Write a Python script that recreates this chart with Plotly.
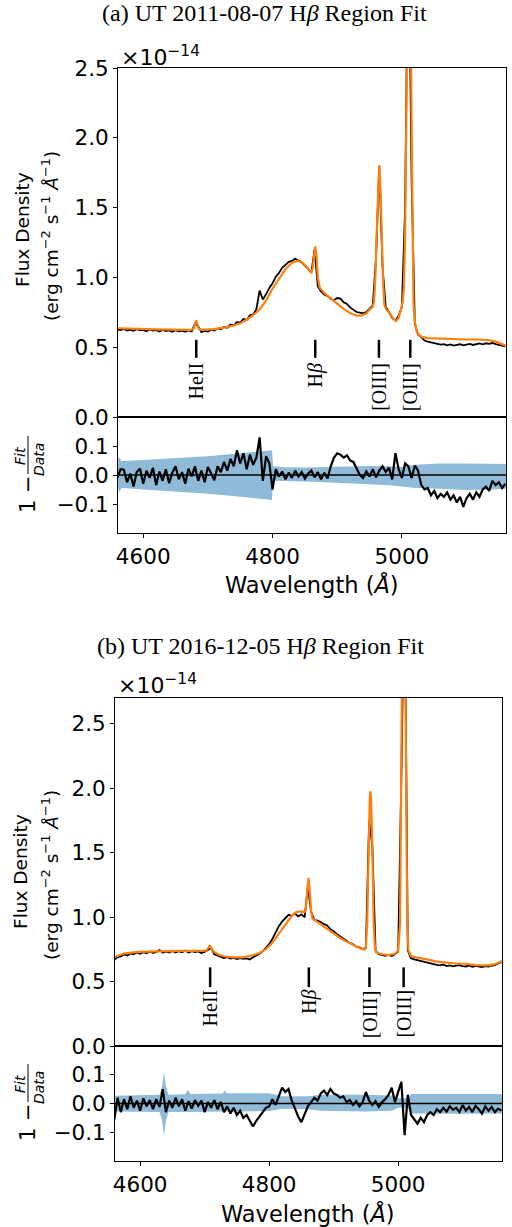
import plotly.graph_objects as go

W, H = 512, 1227


def fx(px):
    return px / W


def fy(py):
    return 1 - py / H


# ---------------- data ----------------
wave = [4560, 4565, 4570, 4575, 4580, 4585, 4590, 4595, 4600, 4605, 4610, 4615, 4620, 4625, 4630, 4635,
        4640, 4645, 4650, 4655, 4660, 4665, 4670, 4675, 4680, 4685, 4690, 4695, 4700, 4705, 4710, 4715,
        4720, 4725, 4730, 4735, 4740, 4745, 4750, 4755, 4760, 4765, 4770, 4775, 4780, 4785, 4790, 4795,
        4800, 4805, 4810, 4815, 4820, 4825, 4830, 4835, 4840, 4845, 4850, 4855, 4860, 4865, 4870, 4875,
        4880, 4885, 4890, 4895, 4900, 4905, 4910, 4915, 4920, 4925, 4930, 4935, 4940, 4945, 4950, 4955,
        4960, 4965, 4970, 4975, 4980, 4985, 4990, 4995, 5000, 5005, 5010, 5015, 5020, 5025, 5030, 5035,
        5040, 5045, 5050, 5055, 5060, 5065, 5070, 5075, 5080, 5085, 5090, 5095, 5100, 5105, 5110, 5115,
        5120, 5125, 5130, 5135, 5140, 5145, 5150, 5155, 5160]

flux_a = [0.628, 0.622, 0.631, 0.620, 0.626, 0.618, 0.629, 0.621, 0.624, 0.615, 0.627, 0.619, 0.623, 0.612, 0.624, 0.616,
          0.620, 0.611, 0.622, 0.613, 0.618, 0.610, 0.621, 0.614, 0.668, 0.650, 0.608, 0.617, 0.612, 0.626, 0.619, 0.634,
          0.628, 0.645, 0.640, 0.662, 0.655, 0.681, 0.676, 0.702, 0.695, 0.728, 0.735, 0.772, 0.905, 0.842, 0.880, 0.925,
          0.958, 1.005, 1.032, 1.070, 1.090, 1.112, 1.118, 1.135, 1.120, 1.108, 1.085, 1.060, 1.035, 1.200, 0.935, 0.900,
          0.878, 0.866, 0.845, 0.838, 0.852, 0.848, 0.822, 0.810, 0.785, 0.768, 0.752, 0.748, 0.742, 0.752, 0.775, 0.800,
          1.140, 1.800, 1.080, 0.790, 0.752, 0.710, 0.692, 0.725, 0.790, 1.500, 3.700, 1.700, 0.670, 0.590, 0.572, 0.548,
          0.540, 0.534, 0.528, 0.524, 0.518, 0.522, 0.514, 0.520, 0.512, 0.517, 0.521, 0.513, 0.519, 0.524, 0.516, 0.522,
          0.527, 0.521, 0.528, 0.524, 0.530, 0.522, 0.516, 0.510, 0.505]

fit_wave_a = [4560, 4580, 4600, 4620, 4640, 4660, 4674, 4678, 4680, 4682, 4684, 4686, 4690, 4700, 4710, 4725,
              4740, 4750, 4760, 4770, 4780, 4790, 4800, 4810, 4820, 4830, 4838, 4845, 4852, 4857, 4860, 4862,
              4864, 4866, 4868, 4870, 4873, 4880, 4890, 4900, 4910, 4920, 4930, 4938, 4945, 4950, 4955, 4957,
              4959, 4961, 4963, 4965, 4967, 4969, 4971, 4973, 4976, 4982, 4987, 4991, 4995, 4998, 5001, 5003,
              5005, 5007, 5009, 5011, 5013, 5015, 5016.5, 5018, 5020, 5023, 5027, 5032, 5040, 5060, 5080, 5100,
              5120, 5135, 5145, 5152, 5161]
fit_a = [0.636, 0.632, 0.630, 0.628, 0.626, 0.624, 0.624, 0.632, 0.660, 0.692, 0.660, 0.632, 0.624, 0.625, 0.630, 0.640,
         0.655, 0.672, 0.697, 0.730, 0.770, 0.835, 0.920, 0.990, 1.060, 1.105, 1.118, 1.110, 1.080, 1.048, 1.032, 1.065,
         1.170, 1.223, 1.150, 1.000, 0.925, 0.888, 0.850, 0.810, 0.775, 0.745, 0.726, 0.728, 0.742, 0.768, 0.790, 0.830,
         1.000, 1.310, 1.648, 1.803, 1.620, 1.270, 0.960, 0.800, 0.770, 0.740, 0.700, 0.688, 0.710, 0.760, 0.820, 0.920,
         1.300, 2.200, 3.300, 3.900, 3.300, 2.100, 1.200, 0.820, 0.680, 0.610, 0.585, 0.572, 0.565, 0.560, 0.557, 0.555,
         0.555, 0.550, 0.540, 0.525, 0.510]

resid_a = [-0.010, 0.020, 0.018, -0.025, 0.005, -0.040, 0.010, 0.022, -0.030, 0.015, -0.010, 0.025, -0.035, 0.012, -0.020, 0.020,
           -0.028, 0.008, 0.030, -0.015, 0.010, -0.030, 0.022, -0.005, 0.030, -0.020, 0.015, -0.025, 0.028, 0.005, -0.018, 0.030,
           0.010, 0.045, 0.015, 0.055, 0.030, 0.085, 0.040, 0.075, 0.020, 0.070, 0.035, 0.060, 0.130, -0.020, 0.065, 0.040,
           -0.050, 0.020, -0.005, 0.012, -0.015, 0.008, -0.010, 0.015, -0.005, 0.010, -0.012, 0.005, 0.015, -0.008, 0.010, -0.015,
           0.008, -0.012, 0.030, 0.060, 0.075, 0.070, 0.060, 0.068, 0.050, 0.045, 0.025, 0.000, -0.010, 0.012, -0.005, 0.020,
           -0.008, 0.015, 0.030, 0.010, 0.025, -0.015, 0.075, 0.020, -0.010, 0.040, 0.030, -0.010, 0.032, 0.015, -0.035, -0.050,
           -0.045, -0.070, -0.055, -0.080, -0.065, -0.075, -0.060, -0.085, -0.070, -0.095, -0.075, -0.110, -0.080, -0.065, -0.085, -0.060,
           -0.075, -0.050, -0.040, -0.055, -0.020, -0.035, -0.025, -0.045, -0.030]

band_wave_a = [4560, 4563, 4566, 4570, 4600, 4650, 4700, 4750, 4799, 4801, 4820, 4850, 4880, 4900, 4920, 4950,
               4980, 5000, 5020, 5040, 5060, 5100, 5140, 5161]
band_hi_a = [0.045, 0.062, 0.048, 0.048, 0.052, 0.058, 0.065, 0.075, 0.085, 0.030, 0.027, 0.026, 0.028, 0.030, 0.031, 0.031,
             0.030, 0.028, 0.035, 0.038, 0.040, 0.040, 0.039, 0.038]
band_lo_a = [-0.040, -0.060, -0.045, -0.045, -0.050, -0.057, -0.065, -0.075, -0.086, -0.020, -0.020, -0.022, -0.025, -0.027, -0.029, -0.030,
             -0.035, -0.040, -0.045, -0.046, -0.048, -0.052, -0.050, -0.047]

line_wave_a = [4682, 4866, 4964.5, 5013]

flux_b = [0.668, 0.690, 0.695, 0.710, 0.702, 0.718, 0.712, 0.725, 0.716, 0.728, 0.720, 0.733, 0.722, 0.730, 0.745, 0.724,
          0.732, 0.726, 0.738, 0.725, 0.735, 0.728, 0.740, 0.726, 0.736, 0.728, 0.734, 0.722, 0.730, 0.745, 0.760, 0.712,
          0.700, 0.688, 0.682, 0.690, 0.678, 0.684, 0.674, 0.682, 0.676, 0.680, 0.672, 0.688, 0.700, 0.715, 0.735, 0.760,
          0.790, 0.830, 0.880, 0.930, 0.965, 0.990, 1.018, 1.010, 1.028, 1.005, 1.022, 0.998, 1.240, 1.040, 0.978, 0.972,
          0.962, 0.945, 0.935, 0.905, 0.890, 0.868, 0.850, 0.835, 0.820, 0.800, 0.790, 0.770, 0.765, 0.752, 0.762, 1.750,
          1.550, 0.740, 0.712, 0.705, 0.700, 0.706, 0.698, 0.712, 0.732, 2.100, 3.700, 0.740, 0.680, 0.672, 0.665, 0.660,
          0.652, 0.648, 0.642, 0.636, 0.630, 0.626, 0.632, 0.620, 0.626, 0.618, 0.624, 0.628, 0.620, 0.617, 0.625, 0.615,
          0.622, 0.618, 0.612, 0.620, 0.616, 0.624, 0.628, 0.640, 0.652]

fit_wave_b = [4558, 4565, 4575, 4590, 4600, 4625, 4650, 4675, 4695, 4702, 4705, 4708, 4711, 4715, 4722, 4730,
              4745, 4760, 4775, 4785, 4795, 4805, 4815, 4825, 4835, 4842, 4850, 4855, 4857, 4859, 4861, 4863,
              4865, 4867, 4878, 4890, 4900, 4910, 4920, 4930, 4940, 4948, 4950, 4952, 4954, 4956, 4957, 4958,
              4960, 4962, 4964, 4966, 4975, 4985, 4995, 5000, 5003, 5005, 5006, 5007, 5008.5, 5010, 5011, 5012,
              5014, 5016, 5020, 5025, 5035, 5045, 5060, 5075, 5090, 5105, 5120, 5140, 5150, 5161]
fit_b = [0.686, 0.700, 0.718, 0.726, 0.730, 0.734, 0.735, 0.735, 0.737, 0.740, 0.755, 0.782, 0.752, 0.728, 0.708, 0.696,
         0.688, 0.688, 0.704, 0.722, 0.752, 0.800, 0.870, 0.940, 1.010, 1.040, 1.045, 1.040, 1.060, 1.200, 1.305, 1.200,
         1.050, 0.990, 0.950, 0.905, 0.870, 0.838, 0.810, 0.782, 0.760, 0.748, 0.770, 0.950, 1.550, 1.920, 1.976, 1.920,
         1.550, 0.950, 0.770, 0.725, 0.712, 0.705, 0.715, 0.740, 0.950, 2.100, 2.800, 3.700, 4.500, 3.700, 2.800, 2.100,
         0.950, 0.740, 0.700, 0.690, 0.682, 0.672, 0.655, 0.645, 0.640, 0.638, 0.628, 0.625, 0.635, 0.660]

resid_b = [-0.055, 0.020, -0.030, 0.015, -0.020, 0.025, -0.015, 0.010, -0.025, 0.018, -0.010, 0.012, -0.020, 0.015, -0.012, 0.050,
           -0.030, 0.010, -0.015, 0.020, -0.010, 0.015, -0.025, 0.008, -0.018, 0.012, -0.008, 0.010, -0.030, 0.005, -0.015, 0.012,
           -0.020, 0.005, -0.030, -0.010, -0.035, -0.015, -0.040, -0.025, -0.050, -0.040, -0.060, -0.080, -0.060, -0.045, -0.030, -0.015,
           -0.010, 0.015, -0.005, 0.025, 0.055, 0.040, 0.050, 0.010, -0.020, -0.045, -0.065, -0.035, -0.010, 0.005, 0.020, 0.010,
           0.035, 0.045, 0.030, 0.050, 0.035, 0.030, 0.020, 0.025, 0.005, 0.012, -0.005, 0.008, -0.010, 0.005, 0.040, 0.010,
           -0.005, 0.008, -0.012, 0.005, 0.015, 0.030, 0.055, 0.005, 0.040, 0.075, -0.110, 0.030, -0.040, -0.055, -0.070, -0.050,
           -0.065, -0.040, -0.030, -0.040, -0.020, -0.030, -0.015, -0.028, -0.010, -0.022, -0.015, -0.030, -0.005, -0.025, -0.012, -0.030,
           -0.008, -0.020, -0.035, -0.010, -0.025, -0.012, -0.030, -0.018, -0.025]

band_wave_b = [4560, 4600, 4630, 4634, 4637, 4640, 4644, 4670, 4674, 4678, 4728, 4731, 4734, 4800, 4820, 4860,
               4880, 4950, 4990, 5000, 5015, 5020, 5060, 5100, 5161]
band_hi_b = [0.027, 0.028, 0.030, 0.060, 0.110, 0.060, 0.030, 0.032, 0.048, 0.033, 0.035, 0.045, 0.036, 0.036, 0.025, 0.025,
             0.030, 0.030, 0.028, 0.018, 0.018, 0.033, 0.033, 0.034, 0.033]
band_lo_b = [-0.028, -0.028, -0.030, -0.060, -0.112, -0.060, -0.030, -0.030, -0.030, -0.030, -0.028, -0.028, -0.028, -0.026, -0.018, -0.020,
             -0.025, -0.028, -0.025, -0.015, -0.015, -0.035, -0.036, -0.036, -0.035]

line_wave_b = [4708.5, 4861.5, 4955.5, 5008.5]
line_names = ["HeII", "H<i>β</i>", "[OIII]", "[OIII]"]

x_ticks = [4600, 4800, 5000]
x_tick_text = ["4600", "4800", "5000"]
y_ticks_main = [0.0, 0.5, 1.0, 1.5, 2.0, 2.5]
y_tick_text_main = ["0.0", "0.5", "1.0", "1.5", "2.0", "2.5"]
y_ticks_res = [-0.1, 0.0, 0.1]
y_tick_text_res = ["\u22120.1", "0.0", "0.1"]

titles = ["(a) UT 2011-08-07 H<i>β</i> Region Fit", "(b) UT 2016-12-05 H<i>β</i> Region Fit"]

# ---------------- styles / positions ----------------
BLACK = "black"
ORANGE = "#ff7f0e"
BAND = "rgba(31,119,180,0.5)"
SANS = "DejaVu Sans"
SERIF = "Liberation Serif"
LABEL_HALF_LEN = [18.3, 12.2, 23.9, 23.9]   # half text length (px) of each rotated label

fig = go.Figure()


def add_panel(sfx_main, sfx_res, fit_wave, fit_vals, flux, resid, bw, bhi, blo, lines, bar_lo, bar_hi,
              text_top_px, axis_bottom_px, px_per_unit):
    xm, ym = "x" + sfx_main, "y" + sfx_main
    xr, yr = "x" + sfx_res, "y" + sfx_res
    fig.add_trace(go.Scatter(x=wave, y=flux, mode="lines", line=dict(color=BLACK, width=1.8),
                             xaxis=xm, yaxis=ym, showlegend=False, hoverinfo="skip"))
    fig.add_trace(go.Scatter(x=fit_wave, y=fit_vals, mode="lines", line=dict(color=ORANGE, width=2.2),
                             xaxis=xm, yaxis=ym, showlegend=False, hoverinfo="skip"))
    bx, by = [], []
    for w in lines:
        bx += [w, w, None]
        by += [bar_lo, bar_hi, None]
    fig.add_trace(go.Scatter(x=bx, y=by, mode="lines", line=dict(color=BLACK, width=2.5),
                             xaxis=xm, yaxis=ym, showlegend=False, hoverinfo="skip"))
    for w, name, half in zip(lines, line_names, LABEL_HALF_LEN):
        yc = (axis_bottom_px - text_top_px - half) / px_per_unit
        fig.add_annotation(x=w, y=yc, xref=xm, yref=ym, text=name, textangle=-90,
                           showarrow=False, xanchor="center", yanchor="middle",
                           font=dict(family=SERIF, size=20, color=BLACK))
    # residual panel
    fig.add_trace(go.Scatter(x=bw, y=blo, mode="lines", line=dict(width=0, color=BAND),
                             xaxis=xr, yaxis=yr, showlegend=False, hoverinfo="skip"))
    fig.add_trace(go.Scatter(x=bw, y=bhi, mode="lines", line=dict(width=0, color=BAND), fill="tonexty",
                             fillcolor=BAND, xaxis=xr, yaxis=yr, showlegend=False, hoverinfo="skip"))
    fig.add_trace(go.Scatter(x=[4500, 5200], y=[0, 0], mode="lines", line=dict(color=BLACK, width=1.3),
                             xaxis=xr, yaxis=yr, showlegend=False, hoverinfo="skip"))
    fig.add_trace(go.Scatter(x=wave, y=resid, mode="lines", line=dict(color=BLACK, width=2.2),
                             xaxis=xr, yaxis=yr, showlegend=False, hoverinfo="skip"))


add_panel("", "2", fit_wave_a, fit_a, flux_a, resid_a, band_wave_a, band_hi_a, band_lo_a,
          line_wave_a, 0.424, 0.553, 363, 417, 139.6)
add_panel("3", "4", fit_wave_b, fit_b, flux_b, resid_b, band_wave_b, band_hi_b, band_lo_b,
          line_wave_b, 0.457, 0.61, 990, 1046, 128.9)

common = dict(showline=True, mirror=True, linecolor=BLACK, linewidth=1, showgrid=False, zeroline=False,
              automargin=False, ticks="outside", ticklen=4, tickwidth=1, tickcolor=BLACK,
              tickfont=dict(family=SANS, size=21.5, color=BLACK))

xr_range = [4561, 5161]
layout_axes = dict(
    xaxis=dict(common, domain=[fx(118), fx(506)], range=xr_range, anchor="y", ticks="", showticklabels=False,
               tickvals=x_ticks),
    yaxis=dict(common, domain=[fy(417), fy(68)], range=[0, 2.5], anchor="x", tickvals=y_ticks_main,
               ticktext=y_tick_text_main),
    xaxis2=dict(common, domain=[fx(118), fx(506)], range=xr_range, anchor="y2", tickvals=x_ticks,
                ticktext=x_tick_text),
    yaxis2=dict(common, domain=[fy(533), fy(417)], range=[-0.2, 0.2], anchor="x2", tickvals=y_ticks_res,
                ticktext=y_tick_text_res),
    xaxis3=dict(common, domain=[fx(115), fx(502)], range=xr_range, anchor="y3", ticks="", showticklabels=False,
                tickvals=x_ticks),
    yaxis3=dict(common, domain=[fy(1046), fy(698)], range=[0, 2.7], anchor="x3", tickvals=y_ticks_main,
                ticktext=y_tick_text_main),
    xaxis4=dict(common, domain=[fx(115), fx(502)], range=xr_range, anchor="y4", tickvals=x_ticks,
                ticktext=x_tick_text),
    yaxis4=dict(common, domain=[fy(1161), fy(1046)], range=[-0.2, 0.2], anchor="x4", tickvals=y_ticks_res,
                ticktext=y_tick_text_res),
)

fig.update_layout(width=W, height=H, margin=dict(l=0, r=0, t=0, b=0, autoexpand=False),
                  paper_bgcolor="white", plot_bgcolor="white", showlegend=False, **layout_axes)


def ann(px, py, text, size, family=SANS, angle=0, xanchor="center", yanchor="middle"):
    fig.add_annotation(x=fx(px), y=fy(py), xref="paper", yref="paper", text=text, showarrow=False,
                       textangle=angle, xanchor=xanchor, yanchor=yanchor,
                       font=dict(family=family, size=size, color=BLACK))


# titles
ann(264, 13, titles[0], 24, SERIF)
ann(260, 646, titles[1], 24, SERIF)
# offset text
ann(119, 56, "\u00d710<sup>\u221214</sup>", 22, xanchor="left")
ann(116, 684, "\u00d710<sup>\u221214</sup>", 22, xanchor="left")
# y labels main
ann(23, 230, "Flux Density", 18.5, angle=-90)
ann(50, 236, "(erg cm<sup>\u22122</sup> s<sup>\u22121</sup> <i>Å</i><sup>\u22121</sup>)", 18.5, angle=-90)
ann(20, 872, "Flux Density", 18.5, angle=-90)
ann(50, 875, "(erg cm<sup>\u22122</sup> s<sup>\u22121</sup> <i>Å</i><sup>\u22121</sup>)", 18.5, angle=-90)
# residual labels
for off in (0, 628):
    ann(28, 494 + off, "1 \u2212", 21, angle=-90)
    ann(20, 456 + off, "<i>Fit</i>", 14, angle=-90)
    ann(39, 460 + off, "<i>Data</i>", 14, angle=-90)
    fig.add_shape(type="line", xref="paper", yref="paper", x0=fx(28), x1=fx(28), y0=fy(436 + off),
                  y1=fy(474 + off), line=dict(color=BLACK, width=1))
# x titles
ann(312, 585, "Wavelength (<i>Å</i>)", 22.5)
ann(308, 1213, "Wavelength (<i>Å</i>)", 22.5)

fig.write_html("out.html", config={"displayModeBar": False},
               post_script="document.body.style.margin='0';document.body.style.overflow='hidden';")
